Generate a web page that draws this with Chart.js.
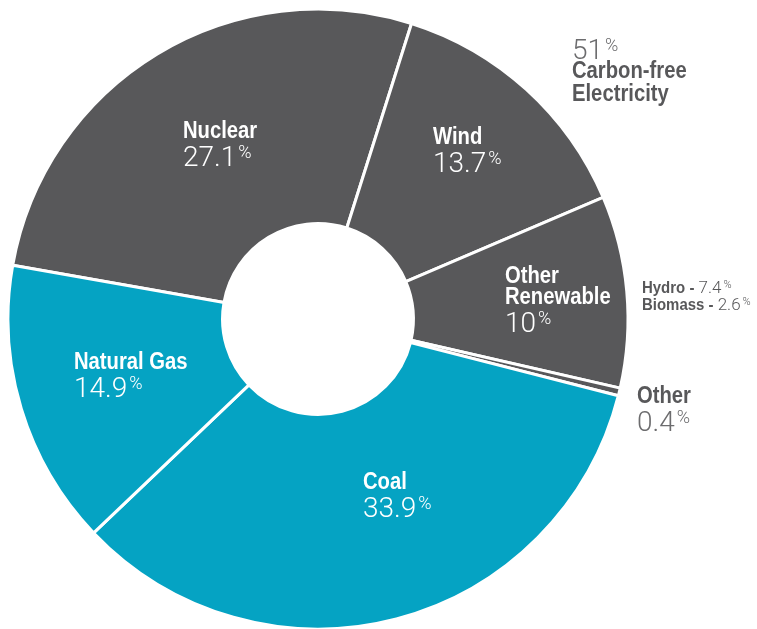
<!DOCTYPE html>
<html>
<head>
<meta charset="utf-8">
<title>Electricity generation mix</title>
<script src="https://cdn.jsdelivr.net/npm/chart.js@4.4.1/dist/chart.umd.min.js"></script>
<style>
    html, body { margin: 0; padding: 0; background: #ffffff; }
    #wrap { width: 757px; height: 629px; }
</style>
</head>
<body>
<div id="wrap"><canvas id="mix-chart" width="757" height="629"></canvas></div>
<script>
// Generation sources, clockwise from the left edge
const sources = ['Nuclear', 'Wind', 'Other Renewable', 'Other', 'Coal', 'Natural Gas'];
const shares = [27.1, 13.7, 10, 0.4, 33.9, 14.9];
const carbonFree = [true, true, true, true, false, false];

// Breakdown of "Other Renewable"
const renewableParts = ['Hydro', 'Biomass'];
const renewableShares = [7.4, 2.6];

const GREY = '#58585a';
const TEAL = '#05a3c3';
const LIGHT_GREY = '#6c6c6e';

const BOLD_FACE = "'Liberation Sans', Arial, sans-serif";
const LIGHT_FACE = "Roboto, 'Liberation Sans', sans-serif";
const NARROW = 0.88; // squeeze the bold face to a condensed look

// Where each slice's text goes, relative to the chart centre
const labelSpots = {
    'Nuclear':         { dx: -135, dy: -181, lines: ['Nuclear'], color: '#ffffff', valueColor: '#ffffff' },
    'Wind':            { dx: 115,  dy: -175, lines: ['Wind'], color: '#ffffff', valueColor: '#ffffff' },
    'Other Renewable': { dx: 187,  dy: -36,  lines: ['Other', 'Renewable'], color: '#ffffff', valueColor: '#ffffff' },
    'Other':           { dx: 319,  dy: 84,   lines: ['Other'], color: GREY, valueColor: LIGHT_GREY },
    'Coal':            { dx: 45,   dy: 170,  lines: ['Coal'], color: '#ffffff', valueColor: '#ffffff' },
    'Natural Gas':     { dx: -244, dy: 50,   lines: ['Natural Gas'], color: '#ffffff', valueColor: '#ffffff' }
};

function drawBold(ctx, text, x, y, size, color) {
    ctx.save();
    ctx.fillStyle = color;
    ctx.font = `bold ${size}px ${BOLD_FACE}`;
    ctx.translate(x, y);
    ctx.scale(NARROW, 1);
    ctx.fillText(text, 0, 0);
    const w = ctx.measureText(text).width * NARROW;
    ctx.restore();
    return w;
}

// Number in a light face followed by a small raised percent sign
function drawPercent(ctx, text, x, y, size, color) {
    ctx.fillStyle = color;
    ctx.font = `300 ${size}px ${LIGHT_FACE}`;
    ctx.fillText(text, x, y);
    const w = ctx.measureText(text).width;
    const small = Math.round(size * 0.64);
    ctx.font = `300 ${small}px ${LIGHT_FACE}`;
    ctx.fillText('%', x + w + 2, y - size * 0.27);
}

const labelPlugin = {
    id: 'sliceLabels',
    afterDraw(chart) {
        const ctx = chart.ctx;
        const arcs = chart.getDatasetMeta(0).data;
        const cx = arcs[0].x;
        const cy = arcs[0].y;

        ctx.save();
        ctx.textAlign = 'left';
        ctx.textBaseline = 'alphabetic';

        sources.forEach((name, i) => {
            const spot = labelSpots[name];
            const x = cx + spot.dx;
            let y = cy + spot.dy;
            spot.lines.forEach((line, k) => {
                if (k > 0) y += 21;
                drawBold(ctx, line, x, y, 23, spot.color);
            });
            drawPercent(ctx, String(shares[i]), x, y + 28, 28, spot.valueColor);
        });

        // Carbon-free total, top right
        const freeTotal = Math.round(shares.reduce((s, v, i) => s + (carbonFree[i] ? v : 0), 0));
        const fx = cx + 254;
        drawPercent(ctx, String(freeTotal), fx, cy - 260, 28, LIGHT_GREY);
        drawBold(ctx, 'Carbon-free', fx, cy - 241, 23, GREY);
        drawBold(ctx, 'Electricity', fx, cy - 218, 23, GREY);

        // Renewable breakdown beside the ring
        const bx = cx + 324;
        renewableParts.forEach((part, k) => {
            const by = cy - 26 + k * 17;
            const hw = drawBold(ctx, part + ' - ', bx, by, 17, GREY);
            drawPercent(ctx, String(renewableShares[k]), bx + hw, by, 17, GREY);
        });

        ctx.restore();
    }
};

const ctx = document.getElementById('mix-chart').getContext('2d');
const chart = new Chart(ctx, {
    type: 'doughnut',
    data: {
        labels: sources,
        datasets: [{
            data: shares,
            backgroundColor: carbonFree.map(c => c ? GREY : TEAL),
            borderColor: '#ffffff',
            borderWidth: 3,
            hoverOffset: 0
        }]
    },
    options: {
        responsive: false,
        animation: false,
        devicePixelRatio: 1,
        rotation: 280,
        radius: 310,
        cutout: 95,
        layout: {
            padding: { top: 9, right: 121, bottom: 0, left: 0 }
        },
        plugins: {
            legend: { display: false },
            tooltip: { enabled: false }
        }
    },
    plugins: [labelPlugin]
});
</script>
</body>
</html>
